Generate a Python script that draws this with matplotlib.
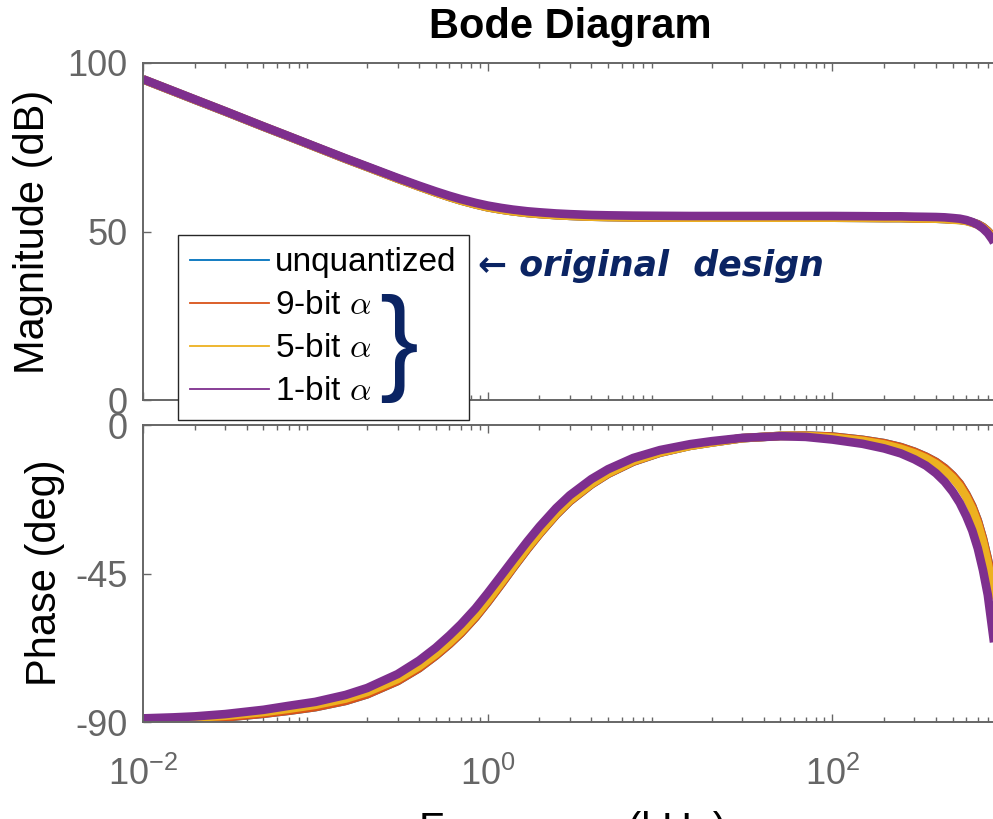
import matplotlib
matplotlib.use("Agg")
import matplotlib.pyplot as plt
from matplotlib.lines import Line2D
from matplotlib.ticker import LogLocator, NullFormatter, FixedLocator

plt.rcParams['font.family'] = ['Liberation Sans', 'DejaVu Sans']
plt.rcParams['mathtext.fontset'] = 'custom'
plt.rcParams['mathtext.rm'] = 'Liberation Sans'
plt.rcParams['mathtext.it'] = 'Liberation Sans:italic'
plt.rcParams['mathtext.bf'] = 'Liberation Sans:bold'
plt.rcParams['axes.unicode_minus'] = False

# ---------------- data ----------------
freq_khz = [0.01, 0.015, 0.02, 0.03, 0.05, 0.07, 0.1, 0.15, 0.2, 0.3, 0.4, 0.5, 0.6, 0.7, 0.85,
            1.0, 1.2, 1.4, 1.7, 2.0, 2.5, 3.0, 4.0, 5.0, 7.0, 10, 15, 20, 30, 50, 70, 100,
            150, 200, 250, 300, 350, 400, 450, 500, 550, 600, 650, 700, 750, 800, 850, 880]

mag_unquant = [95.15, 91.6, 89.1, 85.6, 81.1, 78.2, 75.1, 71.55, 69.15, 65.7, 63.35, 61.6, 60.25, 59.2, 58.05,
               57.2, 56.5, 56.0, 55.5, 55.2, 54.85, 54.65, 54.4, 54.3, 54.2, 54.15, 54.1, 54.1, 54.1, 54.1, 54.1, 54.1,
               54.05, 54.0, 54.0, 53.9, 53.85, 53.8, 53.7, 53.55, 53.45, 53.2, 52.7, 52.15, 51.3, 50.1, 48.6, 47.5]
mag_9bit = [95.15, 91.6, 89.1, 85.6, 81.1, 78.2, 75.1, 71.55, 69.15, 65.7, 63.35, 61.6, 60.25, 59.2, 58.05,
            57.2, 56.5, 56.0, 55.5, 55.2, 54.85, 54.65, 54.4, 54.3, 54.2, 54.15, 54.1, 54.1, 54.1, 54.1, 54.1, 54.1,
            54.05, 54.0, 54.0, 53.9, 53.85, 53.8, 53.7, 53.55, 53.45, 53.2, 52.7, 52.15, 51.3, 50.1, 48.6, 47.5]
mag_5bit = [95.15, 91.65, 89.15, 85.65, 81.15, 78.25, 75.1, 71.6, 69.15, 65.7, 63.35, 61.6, 60.25, 59.2, 58.05,
            57.2, 56.5, 56.0, 55.5, 55.2, 54.85, 54.65, 54.4, 54.3, 54.2, 54.15, 54.1, 54.1, 54.1, 54.1, 54.1, 54.1,
            54.05, 54.0, 54.0, 53.9, 53.85, 53.8, 53.7, 53.5, 53.4, 53.1, 52.6, 52.0, 51.1, 49.9, 48.3, 47.2]
mag_1bit = [95.2, 91.7, 89.2, 85.7, 81.2, 78.3, 75.2, 71.7, 69.3, 65.9, 63.6, 61.9, 60.6, 59.6, 58.5,
            57.7, 57.0, 56.5, 56.0, 55.7, 55.35, 55.15, 54.9, 54.8, 54.7, 54.65, 54.6, 54.6, 54.6, 54.6, 54.6, 54.6,
            54.55, 54.5, 54.5, 54.4, 54.35, 54.3, 54.2, 54.0, 53.8, 53.4, 52.8, 52.0, 50.9, 49.5, 47.6, 46.2]

ph_unquant = [-89.6, -89.4, -89.1, -88.6, -87.5, -86.6, -85.5, -83.6, -81.6, -77.6, -73.7, -69.9, -66.4, -63.1, -58.3,
              -53.7, -48.2, -43.4, -37.6, -33.0, -27.2, -23.1, -18.0, -14.8, -11.1, -8.4, -6.3, -5.3, -4.0, -3.3, -3.2, -3.5,
              -4.5, -5.5, -6.7, -8.1, -9.6, -11.2, -13.1, -15.3, -17.8, -21.0, -24.6, -29.0, -34.4, -40.6, -47.5, -53.0]
ph_9bit = [-89.6, -89.4, -89.1, -88.6, -87.5, -86.6, -85.5, -83.6, -81.6, -77.6, -73.7, -69.9, -66.4, -63.1, -58.3,
           -53.7, -48.2, -43.4, -37.6, -33.0, -27.2, -23.1, -18.0, -14.8, -11.1, -8.4, -6.3, -5.3, -4.0, -3.3, -3.2, -3.5,
           -4.5, -5.5, -6.7, -8.1, -9.6, -11.2, -13.1, -15.3, -17.8, -21.0, -24.6, -29.0, -34.4, -40.6, -47.5, -53.0]
ph_5bit = [-89.3, -89.0, -88.7, -88.1, -87.0, -86.0, -84.8, -82.9, -80.9, -77.0, -73.1, -69.4, -65.9, -62.6, -57.8,
           -53.2, -47.7, -43.0, -37.2, -32.7, -26.9, -22.8, -17.8, -14.6, -10.9, -8.3, -6.3, -5.3, -4.0, -3.3, -3.3, -3.8,
           -4.8, -5.9, -7.2, -8.6, -10.1, -11.8, -13.8, -16.0, -18.6, -21.8, -25.5, -30.0, -35.5, -42.0, -49.0, -55.0]
ph_1bit = [-88.9, -88.6, -88.3, -87.6, -86.3, -85.1, -83.9, -81.8, -79.7, -75.5, -71.4, -67.5, -63.8, -60.4, -55.6,
           -51.0, -45.6, -41.0, -35.3, -30.8, -25.2, -21.3, -16.4, -13.4, -10.0, -7.6, -5.8, -4.9, -3.9, -3.4, -3.6, -4.4,
           -5.7, -7.1, -8.6, -10.4, -12.3, -14.6, -17.2, -20.2, -23.6, -27.6, -32.0, -37.4, -44.0, -51.5, -62.0, -68.0]

series_names = ['unquantized', '9-bit $\\alpha$', '5-bit $\\alpha$', '1-bit $\\alpha$']
series_colors = ['#0072BD', '#D95319', '#EDB120', '#7E2F8E']
mag_list = [mag_unquant, mag_9bit, mag_5bit, mag_1bit]
ph_list = [ph_unquant, ph_9bit, ph_5bit, ph_1bit]

mag_ticks = [0, 50, 100]
ph_ticks = [-90, -45, 0]
x_major = [1e-2, 1e0, 1e2]
x_range = (1e-2, 1e3)

# ---------------- figure ----------------
W, H = 993, 819
fig = plt.figure(figsize=(W / 100, H / 100), dpi=100)

def fx(px):
    return px / W

def fy(py):
    return 1 - py / H

left = fx(143)
width = fx(1004.5) - left
ax1 = fig.add_axes([left, fy(400), width, fy(63) - fy(400)])
ax2 = fig.add_axes([left, fy(722), width, fy(425) - fy(722)])

grey = '#666666'
for ax in (ax1, ax2):
    ax.set_xscale('log')
    ax.set_xlim(*x_range)
    for s in ax.spines.values():
        s.set_color(grey)
        s.set_linewidth(1.4)
    ax.tick_params(which='both', direction='in', top=True, right=True,
                   color=grey, labelcolor=grey, width=1.0, labelsize=26)
    ax.tick_params(which='major', length=6)
    ax.tick_params(which='minor', length=3.3)
    ax.xaxis.set_major_locator(FixedLocator(x_major))
    ax.xaxis.set_minor_locator(LogLocator(base=10, subs=[2, 3, 4, 5, 6, 7, 8, 9], numticks=40))
    ax.xaxis.set_minor_formatter(NullFormatter())

ax1.set_ylim(0, 100)
ax1.yaxis.set_major_locator(FixedLocator(mag_ticks))
ax1.tick_params(axis='x', which='both', labelbottom=False)
ax1.tick_params(axis='y', pad=11)

ax2.set_ylim(-90, 0)
ax2.yaxis.set_major_locator(FixedLocator(ph_ticks))
ax2.tick_params(axis='y', pad=11)
ax2.tick_params(axis='x', pad=25)

for name, col, m, p in zip(series_names, series_colors, mag_list, ph_list):
    ax1.plot(freq_khz, m, color=col, lw=6.2, solid_capstyle='butt', solid_joinstyle='round')
    ax2.plot(freq_khz, p, color=col, lw=6.2, solid_capstyle='butt', solid_joinstyle='round')

handles = [Line2D([0], [0], color=c, lw=1.3) for c in series_colors]
leg = ax1.legend(handles, series_names, loc='upper left',
                 bbox_to_anchor=(fx(178), fy(235)), bbox_transform=fig.transFigure,
                 fontsize=24, frameon=True, fancybox=False, framealpha=1,
                 edgecolor='#262626', borderaxespad=0, borderpad=0.37,
                 handlelength=2.35, handletextpad=0.2, labelspacing=0.36)
leg.get_frame().set_linewidth(1.0)
for t in leg.get_texts():
    t.set_math_fontfamily('cm')
leg.set_zorder(10)

# titles and labels
fig.text(fx(570), fy(27), 'Bode Diagram', ha='center', va='center',
         fontsize=30, fontweight='bold', color='black')
fig.text(fx(33), fy(232), 'Magnitude (dB)', rotation=90, ha='center', va='center',
         fontsize=30, color='black')
fig.text(fx(45), fy(573), 'Phase (deg)', rotation=90, ha='center', va='center',
         fontsize=30, color='black')
fig.text(fx(573), fy(842), 'Frequency (kHz)', ha='center', va='baseline',
         fontsize=30, color='black')

# handwritten annotations
navy = '#0B2463'
fig.text(fx(478), fy(266), '\u2190 original  design', ha='left', va='center',
         fontsize=25, fontstyle='italic', fontweight='bold', color=navy,
         family=['DejaVu Sans'])
fig.text(fx(399), fy(348), '}', ha='center', va='center', fontsize=84,
         color=navy, family=['Liberation Sans'])

fig.savefig('out.png', dpi=100)
